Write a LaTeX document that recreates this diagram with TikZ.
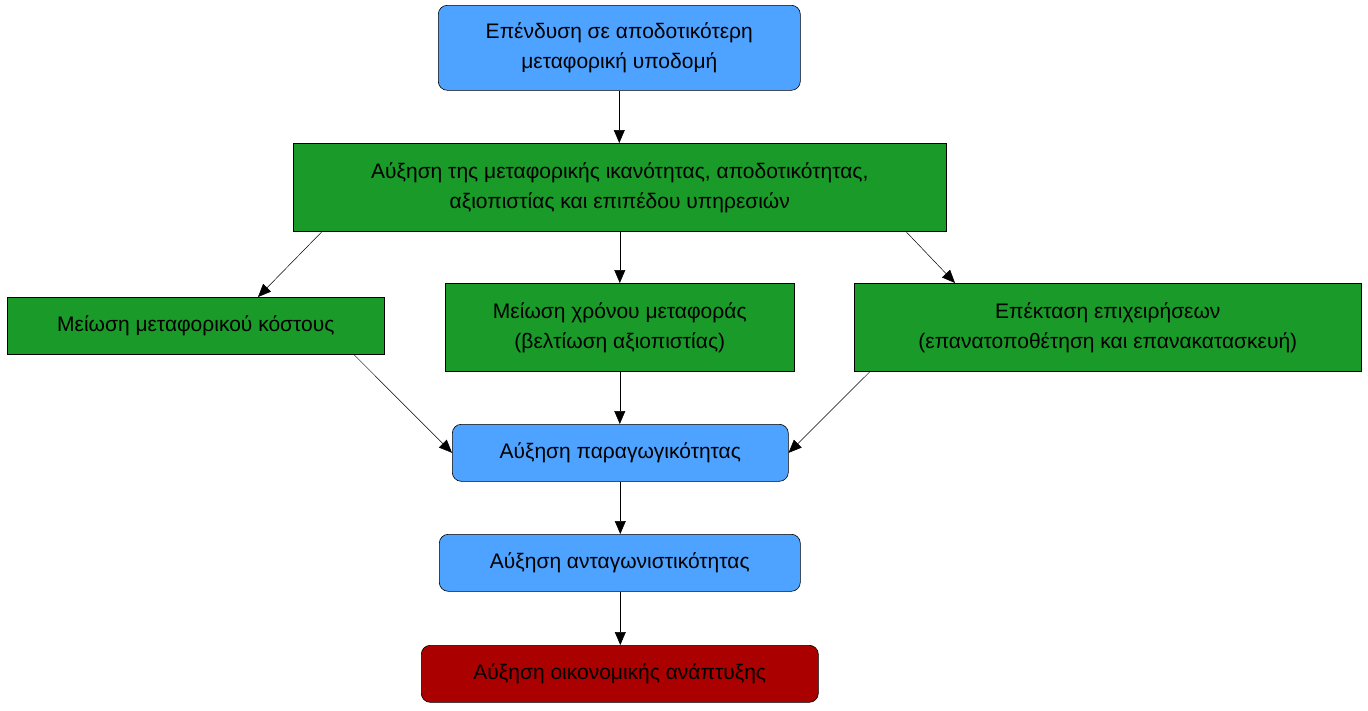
\documentclass[tikz,border=0pt]{standalone}
\usepackage{fontspec}
\setmainfont{Liberation Sans}
\usetikzlibrary{calc,arrows.meta}
\definecolor{bl}{HTML}{4DA3FF}
\definecolor{gr}{HTML}{1A9A28}
\definecolor{rd}{HTML}{AA0000}
\begin{document}
\begin{tikzpicture}[x=1pt,y=-1pt,
 box/.style={draw=black,line width=0.6pt,align=center,font=\fontsize{21}{30}\selectfont,inner sep=0pt,anchor=north west},
 rbox/.style={box,rounded corners=9pt,fill=bl},
 gbox/.style={box,fill=gr},
 arr/.style={-{Triangle[length=13pt,width=11pt]},line width=0.5pt}]
\useasboundingbox (0,0) rectangle (1368,710);
\node[rbox,minimum width=362pt,minimum height=85pt] (top) at (438,5) {Επένδυση σε αποδοτικότερη\\μεταφορική υποδομή};
\node[gbox,minimum width=653pt,minimum height=88pt] (g1) at (293,143) {Αύξηση της μεταφορικής ικανότητας, αποδοτικότητας,\\αξιοπιστίας και επιπέδου υπηρεσιών};
\node[gbox,minimum width=377pt,minimum height=57pt] (l) at (7,297) {Μείωση μεταφορικού κόστους};
\node[gbox,minimum width=349pt,minimum height=88pt] (m) at (445,283) {Μείωση χρόνου μεταφοράς\\(βελτίωση αξιοπιστίας)};
\node[gbox,minimum width=507pt,minimum height=88pt] (r) at (854,283) {Επέκταση επιχειρήσεων\\(επανατοποθέτηση και επανακατασκευή)};
\node[rbox,minimum width=336pt,minimum height=57pt] (p) at (452,424) {Αύξηση παραγωγικότητας};
\node[rbox,minimum width=361pt,minimum height=57pt] (c) at (439,534) {Αύξηση ανταγωνιστικότητας};
\node[rbox,fill=rd,minimum width=397pt,minimum height=57pt] (e) at (421,645) {Αύξηση οικονομικής ανάπτυξης};
\draw[arr] (top.south) -- (g1.north -| top.south);
\draw[arr] ($(g1.south west)+(29,0)$) -- ($(l.north west)+(251,0)$);
\draw[arr] (g1.south -| m.north) -- (m.north);
\draw[arr] ($(g1.south west)+(613,0)$) -- ($(r.north west)+(101,0)$);
\draw[arr] ($(l.south west)+(347,0)$) -- (p.west);
\draw[arr] (m.south) -- (p.north -| m.south);
\draw[arr] ($(r.south west)+(16,0)$) -- (p.east);
\draw[arr] (p.south) -- (c.north -| p.south);
\draw[arr] (c.south -| p.south) -- (e.north -| p.south);
\end{tikzpicture}
\end{document}
